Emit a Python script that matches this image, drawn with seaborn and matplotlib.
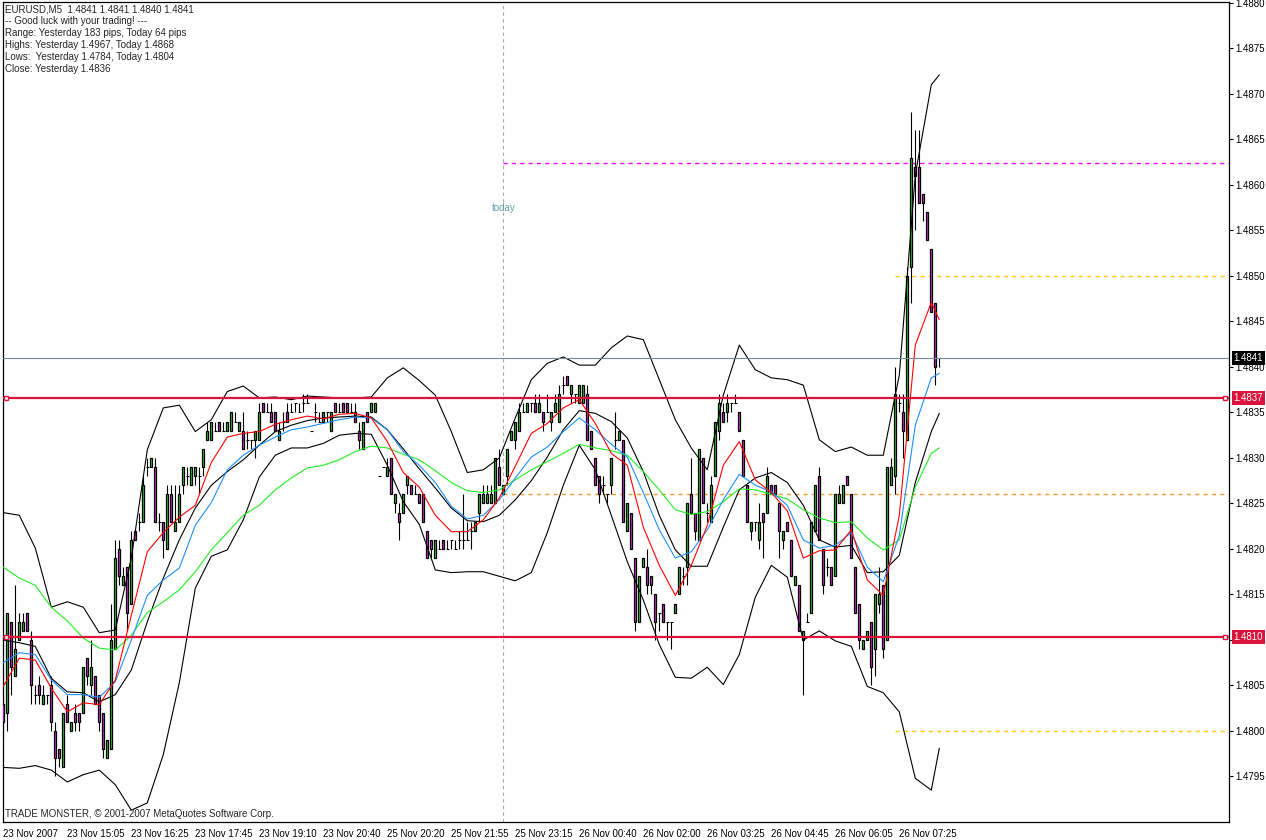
import numpy as np
import matplotlib
matplotlib.use("Agg")
import matplotlib.pyplot as plt
import matplotlib.transforms as mtransforms
import seaborn as sns

# prices are kept in pips above BASE
BASE = 1.4800
PIP = 0.0001

OPEN = [3, 2, 12, 6, 10, 11, 13, 10, 4, 5,
        3, 4, 5, 0, -2, -4, 3, 0, 2, 2,
        2, 8, 5, 6, 4, 2, -3, -2, 9, 20,
        16, 18, 14, 22, 23, 23, 29, 29, 29, 23,
        23, 20, 26, 22, 23, 27, 28, 27, 28, 28,
        29, 32, 32, 33, 34, 33, 33, 33, 34, 33,
        33, 32, 32, 32, 32, 36, 35, 35, 35, 32,
        34, 35, 35, 36, 35, 36, 36, 33, 35, 34,
        34, 35, 33, 36, 35, 36, 36, 35, 35, 33,
        31, 35, 35, 35, 28, 29, 28, 30, 25, 24,
        24, 27, 27, 26, 26, 26, 22, 21, 19, 20,
        21, 20, 21, 20, 21, 21, 21, 22, 22, 24,
        25, 25, 25, 25, 29, 26, 28, 32, 32, 33,
        35, 35, 36, 36, 35, 35, 35, 34, 35, 34,
        38, 39, 37, 37, 36, 36, 37, 33, 30, 28,
        27, 26, 27, 32, 32, 32, 22, 24, 19, 12,
        18, 18, 17, 15, 13, 14, 12, 12, 13, 15,
        17, 18, 26, 24, 21, 30, 24, 23, 28, 33,
        35, 35, 36, 36, 35, 32, 27, 22, 23, 21,
        24, 24, 27, 27, 25, 21, 23, 21, 16, 16,
        10, 12, 13, 22, 28, 20, 18, 18, 17, 25,
        25, 28, 26, 18, 14, 9, 10, 12, 9, 14,
        16, 10, 27, 28, 36, 35, 32, 51, 62, 62,
        59, 57, 53, 47, 41]
HIGH = [4, 13, 12, 16, 13, 13, 13, 11, 5, 6,
        5, 4, 6, 1, -2, 2, 4, 1, 3, 2,
        7, 8, 10, 6, 4, 2, -1, 14, 21, 21,
        18, 18, 22, 22, 24, 28, 30, 30, 30, 24,
        23, 27, 27, 27, 27, 29, 29, 29, 29, 29,
        31, 34, 34, 34, 34, 34, 34, 35, 35, 34,
        35, 33, 32, 33, 36, 36, 36, 36, 35, 34,
        35, 36, 36, 36, 36, 37, 37, 33, 36, 35,
        35, 35, 35, 36, 36, 36, 36, 36, 36, 34,
        34, 35, 36, 36, 28, 29, 30, 30, 26, 25,
        26, 28, 27, 27, 26, 26, 22, 21, 21, 21,
        21, 21, 21, 21, 22, 26, 23, 23, 23, 26,
        27, 27, 27, 30, 31, 27, 31, 33, 34, 36,
        36, 36, 36, 37, 37, 35, 37, 35, 37, 38,
        39, 39, 38, 37, 38, 38, 38, 33, 30, 28,
        28, 26, 30, 35, 33, 32, 25, 24, 19, 17,
        19, 20, 17, 15, 13, 14, 12, 12, 14, 18,
        18, 25, 30, 24, 31, 30, 25, 28, 34, 37,
        36, 37, 36, 37, 35, 32, 27, 23, 23, 25,
        24, 29, 27, 27, 25, 22, 23, 21, 17, 16,
        11, 13, 23, 27, 29, 20, 19, 18, 26, 27,
        27, 28, 26, 18, 14, 10, 11, 12, 15, 18,
        16, 29, 30, 40, 37, 37, 51, 68, 66, 66,
        59, 57, 53, 47, 41]
LOW = [-1, 0, 4, 6, 10, 11, 11, 3, 3, 3,
       3, 3, 0, -5, -4, -4, 1, 0, 0, 0,
       2, 5, 4, 3, 0, -3, -3, -2, 9, 16,
       16, 11, 14, 21, 22, 23, 28, 29, 23, 22,
       19, 20, 23, 22, 23, 26, 27, 27, 27, 26,
       28, 32, 32, 33, 33, 33, 33, 33, 34, 33,
       31, 31, 31, 30, 32, 35, 35, 34, 33, 32,
       33, 34, 35, 35, 35, 35, 36, 33, 34, 34,
       34, 34, 33, 35, 35, 35, 35, 35, 34, 31,
       31, 34, 35, 35, 28, 29, 28, 26, 24, 21,
       24, 26, 26, 26, 25, 23, 19, 19, 19, 20,
       20, 20, 20, 20, 20, 20, 21, 20, 22, 23,
       25, 25, 25, 25, 27, 26, 27, 32, 31, 33,
       35, 35, 35, 35, 35, 33, 35, 33, 35, 34,
       37, 38, 36, 36, 36, 36, 32, 31, 27, 25,
       26, 25, 26, 31, 32, 23, 22, 20, 11, 12,
       18, 15, 15, 10, 11, 12, 10, 9, 13, 15,
       16, 16, 24, 21, 21, 25, 23, 23, 28, 32,
       34, 34, 35, 36, 33, 28, 23, 21, 22, 20,
       19, 24, 26, 26, 19, 20, 22, 17, 16, 11,
       4, 12, 13, 22, 21, 15, 17, 16, 17, 25,
       25, 27, 19, 13, 9, 9, 10, 5, 6, 13,
       8, 10, 27, 26, 35, 30, 32, 47, 55, 58,
       56, 54, 46, 38, 40]
CLOSE = [1, 13, 7, 9, 12, 12, 11, 5, 4, 4,
         4, 4, 1, -3, -3, 2, 1, 1, 1, 1,
         7, 6, 7, 3, 1, -2, -1, 10, 19, 17,
         17, 13, 21, 21, 23, 27, 29, 30, 23, 23,
         21, 26, 23, 23, 26, 29, 28, 29, 29, 28,
         31, 33, 34, 33, 33, 33, 34, 35, 34, 34,
         31, 32, 32, 33, 35, 35, 35, 34, 33, 33,
         34, 34, 35, 36, 35, 36, 36, 33, 35, 34,
         35, 35, 35, 35, 35, 35, 35, 35, 34, 32,
         34, 34, 36, 36, 28, 29, 29, 26, 26, 23,
         26, 28, 26, 26, 25, 23, 19, 20, 21, 20,
         20, 20, 21, 20, 21, 21, 21, 22, 23, 26,
         26, 26, 26, 30, 27, 27, 31, 33, 34, 35,
         35, 36, 36, 35, 36, 34, 35, 35, 36, 37,
         38, 38, 38, 37, 38, 38, 32, 31, 27, 26,
         27, 26, 30, 32, 33, 23, 25, 20, 12, 17,
         19, 16, 16, 12, 13, 12, 12, 12, 14, 18,
         17, 25, 24, 22, 31, 25, 24, 27, 34, 36,
         34, 36, 36, 36, 33, 28, 23, 23, 23, 23,
         23, 28, 26, 26, 22, 22, 22, 17, 17, 11,
         11, 12, 23, 27, 21, 16, 18, 16, 26, 26,
         27, 27, 19, 13, 10, 10, 11, 7, 15, 15,
         9, 29, 29, 37, 36, 33, 50, 63, 61, 58,
         58, 54, 46, 40, 41]

# indicator lines, read every 4th bar (pips above BASE)
LINE_BARS = list(range(0, 233, 4)) + [234]
MA_RED = [4.9, 8.0, 7.8, 4.7, 2.1, 3.1, 2.9, 5.6, 12.7, 19.7,
          21.8, 23.5, 24.8, 29.5, 32.3, 32.7, 32.9, 33.7, 34.2, 34.6,
          34.3, 34.8, 34.9, 34.4, 31.8, 28.4, 26.8, 23.7, 21.9, 21.9,
          23.2, 25.6, 29.1, 32.7, 33.8, 35.5, 36.4, 33.8, 30.5, 29.2,
          22.4, 18.2, 14.9, 18.2, 22.6, 29.2, 31.8, 27.6, 26.2, 24.2,
          19.0, 19.8, 19.9, 22.1, 16.6, 14.9, 23.7, 42.4, 47.1, 45.2]
MA_BLUE = [7.5, 8.6, 8.4, 5.6, 4.0, 4.0, 3.7, 5.4, 10.0, 14.9,
           16.6, 17.9, 22.6, 25.1, 28.7, 30.3, 31.4, 32.3, 33.1, 33.4,
           33.8, 34.2, 34.5, 34.4, 33.1, 30.7, 29.2, 27.3, 24.7, 23.3,
           23.7, 25.4, 27.8, 30.1, 31.2, 32.9, 34.4, 33.1, 31.5, 30.1,
           26.2, 22.1, 19.0, 19.7, 22.1, 25.4, 28.2, 27.0, 26.3, 24.8,
           21.0, 20.1, 20.4, 21.8, 18.0, 16.4, 21.5, 33.6, 38.8, 39.3]
MA_GREEN = [18.0, 16.8, 16.0, 13.6, 12.1, 10.2, 9.1, 8.9, 10.5, 13.0,
            14.2, 15.5, 17.5, 19.9, 21.8, 23.7, 24.8, 26.5, 27.8, 28.9,
            29.2, 29.8, 30.7, 31.3, 31.1, 30.4, 29.8, 28.6, 27.3, 26.4,
            26.2, 26.5, 27.6, 28.7, 29.6, 30.5, 31.5, 31.1, 30.8, 30.3,
            28.5, 26.5, 24.3, 23.8, 24.1, 25.2, 26.6, 26.5, 26.0, 25.5,
            24.3, 23.4, 22.9, 23.0, 21.2, 19.9, 21.0, 26.8, 30.5, 31.1]
BB_UPPER = [24.0, 23.7, 20.1, 13.6, 14.2, 13.6, 10.8, 11.1, 19.0, 30.9,
            35.5, 35.8, 32.9, 34.2, 37.3, 37.9, 36.6, 36.7, 36.4, 36.8,
            36.7, 36.6, 36.6, 36.7, 38.8, 39.9, 38.5, 36.9, 32.9, 28.4,
            28.7, 30.0, 34.4, 38.6, 40.4, 41.1, 40.2, 40.2, 42.1, 43.4,
            43.0, 38.6, 34.2, 31.1, 28.7, 36.9, 42.4, 39.7, 38.8, 38.6,
            38.0, 32.0, 30.7, 31.2, 30.3, 30.3, 39.1, 61.1, 71.0, 72.1]
BB_MIDDLE = [10.0, 9.7, 9.3, 5.8, 4.3, 4.2, 3.2, 4.0, 6.7, 12.0,
             16.8, 21.0, 24.5, 27.0, 28.5, 29.8, 31.4, 32.9, 33.6, 34.1,
             34.4, 34.5, 34.6, 34.5, 33.1, 31.0, 28.8, 26.7, 24.5, 23.1,
             23.0, 23.7, 25.4, 27.5, 30.1, 33.1, 35.2, 34.9, 34.0, 32.2,
             28.5, 23.7, 19.9, 18.1, 18.1, 22.4, 26.5, 27.8, 28.4, 27.3,
             24.8, 21.0, 20.2, 20.4, 17.4, 17.5, 19.3, 27.3, 32.9, 34.9]
BB_LOWER = [-4.0, -4.1, -3.8, -4.3, -5.6, -4.8, -4.3, -5.9, -8.7, -7.9,
            -2.6, 5.3, 15.7, 19.2, 19.9, 23.2, 27.9, 30.3, 31.1, 31.1,
            31.6, 32.5, 32.7, 32.6, 29.2, 25.2, 22.7, 17.7, 17.4, 17.5,
            17.5, 17.0, 16.5, 17.4, 21.8, 27.0, 31.4, 28.7, 23.7, 18.6,
            14.4, 9.5, 5.9, 5.8, 7.0, 5.1, 8.4, 14.7, 18.2, 16.9,
            10.0, 11.0, 9.9, 9.3, 4.9, 4.2, 2.1, -5.2, -6.5, -1.9]

TIME_TICKS = list(range(0, 225, 16))
TIME_LABELS = ["23 Nov 2007", "23 Nov 15:05", "23 Nov 16:25", "23 Nov 17:45",
               "23 Nov 19:10", "23 Nov 20:40", "25 Nov 20:20", "25 Nov 21:55",
               "25 Nov 23:15", "26 Nov 00:40", "26 Nov 02:00", "26 Nov 03:25",
               "26 Nov 04:45", "26 Nov 06:05", "26 Nov 07:25"]
PRICE_TICKS = [1.4795, 1.4800, 1.4805, 1.4810, 1.4815, 1.4820, 1.4825, 1.4830,
               1.4835, 1.4840, 1.4845, 1.4850, 1.4855, 1.4860, 1.4865, 1.4870,
               1.4875, 1.4880]

TODAY_BAR = 125
BID = 1.4841
RED_LEVELS = [1.48366, 1.48103]
DASH_LEVELS = [1.48624, 1.4826, 1.4850, 1.4800]
DASH_START = [125, 125, 223, 223]
DASH_COLORS = ["#ff00ff", "#f0a030", "#ffcc00", "#ffcc00"]

HEADER = ["EURUSD,M5  1.4841 1.4841 1.4840 1.4841",
          "-- Good luck with your trading! ---",
          "Range: Yesterday 183 pips, Today 64 pips",
          "Highs: Yesterday 1.4967, Today 1.4868",
          "Lows:  Yesterday 1.4784, Today 1.4804",
          "Close: Yesterday 1.4836"]

sns.set_style("white")
plt.rcParams["font.family"] = ["Liberation Sans", "DejaVu Sans"]

W, H = 1266, 840
fig = plt.figure(figsize=(W / 100, H / 100), dpi=100)
ax = fig.add_axes([2.5 / W, 18 / H, 1226 / W, 820 / H])

o = BASE + PIP * np.array(OPEN, dtype=float)
hi = BASE + PIP * np.array(HIGH, dtype=float)
lo = BASE + PIP * np.array(LOW, dtype=float)
c = BASE + PIP * np.array(CLOSE, dtype=float)
bars = np.arange(len(o))

# candles: black wick, coloured body with black outline
ax.vlines(bars, lo, hi, color="black", lw=0.8, zorder=2)
body = c != o
up = c > o
cols = np.where(up, "#2fd12f", "#d92ad9")
ax.bar(bars[body], np.abs(c - o)[body], bottom=np.minimum(o, c)[body],
       width=0.5, color=cols[body], edgecolor="black", linewidth=0.9, zorder=3)
ax.hlines(c[~body], bars[~body] - 0.4, bars[~body] + 0.4, color="black", lw=0.8, zorder=3)

# indicators
lb = np.array(LINE_BARS)
for vals, col in [(BB_UPPER, "black"), (BB_MIDDLE, "black"), (BB_LOWER, "black"),
                  (MA_GREEN, "#22ee22"), (MA_BLUE, "#1e90ff"), (MA_RED, "#ff0000")]:
    sns.lineplot(x=lb, y=BASE + PIP * np.array(vals), color=col, linewidth=0.8,
                 sort=False, ax=ax, zorder=4)

xmax = 306.3
ax.set_xlim(-0.2, xmax)
ax.set_ylim(1.4790, 1.48801)

# levels
ax.axvline(TODAY_BAR, color="#a8a8a8", lw=0.8, ls=(0, (3, 3)), zorder=1)
for lvl, start, col in zip(DASH_LEVELS, DASH_START, DASH_COLORS):
    ax.hlines(lvl, start, xmax, color=col, lw=1.0, linestyles=(0, (3, 3)), zorder=1)
ax.axhline(BID, color="#778899", lw=0.8, zorder=5)
trans = mtransforms.blended_transform_factory(ax.transAxes, ax.transData)
for lvl in RED_LEVELS:
    ax.axhline(lvl, color="#dc143c", lw=1.6, zorder=6)
    ax.plot([0.003, 0.9975], [lvl, lvl], "s", ms=3.5, mfc="white", mec="#dc143c",
            mew=1.0, transform=trans, zorder=7, clip_on=False)

tday = mtransforms.blended_transform_factory(ax.transData, ax.transAxes)
ax.text(TODAY_BAR, 1 - 206 / 820, "today", color="#5f9ea0", fontsize=7,
        ha="center", va="center", transform=tday)

# axes
for s in ax.spines.values():
    s.set_color("black")
    s.set_linewidth(0.9)
ax.yaxis.tick_right()
ax.set_yticks(PRICE_TICKS)
# the 1.4810 label sits under its red price tag
ax.set_yticklabels(["" if abs(t - 1.4810) < 1e-6 else "%.4f" % t for t in PRICE_TICKS])
ax.tick_params(axis="y", direction="out", length=3, width=0.8, pad=2,
               labelsize=7, colors="black")
ax.set_xticks(TIME_TICKS)
ax.set_xticklabels(TIME_LABELS)
ax.tick_params(axis="x", direction="out", length=4, width=0.8, pad=1,
               labelsize=7, colors="black")
for t in ax.get_xticklabels():
    t.set_ha("left")
ax.set_xlabel("")
ax.set_ylabel("")

# price tags on the right scale
for lvl, fc in [(BID, "black")] + [(v, "#dc143c") for v in RED_LEVELS]:
    ax.text(1.0042, lvl, "%.4f" % lvl, transform=trans, ha="left", va="center",
            fontsize=7, color="white", zorder=8, clip_on=False,
            bbox=dict(boxstyle="square,pad=0.18", fc=fc, ec="none"))

for i, line in enumerate(HEADER):
    fig.text(5 / W, 1 - (9 + 12 * i) / H, line, fontsize=7, ha="left", va="center")
fig.text(5 / W, 1 - 814 / H, "TRADE MONSTER, \u00a9 2001-2007 MetaQuotes Software Corp.",
         fontsize=7, ha="left", va="center")

fig.savefig("out.png", dpi=100)
